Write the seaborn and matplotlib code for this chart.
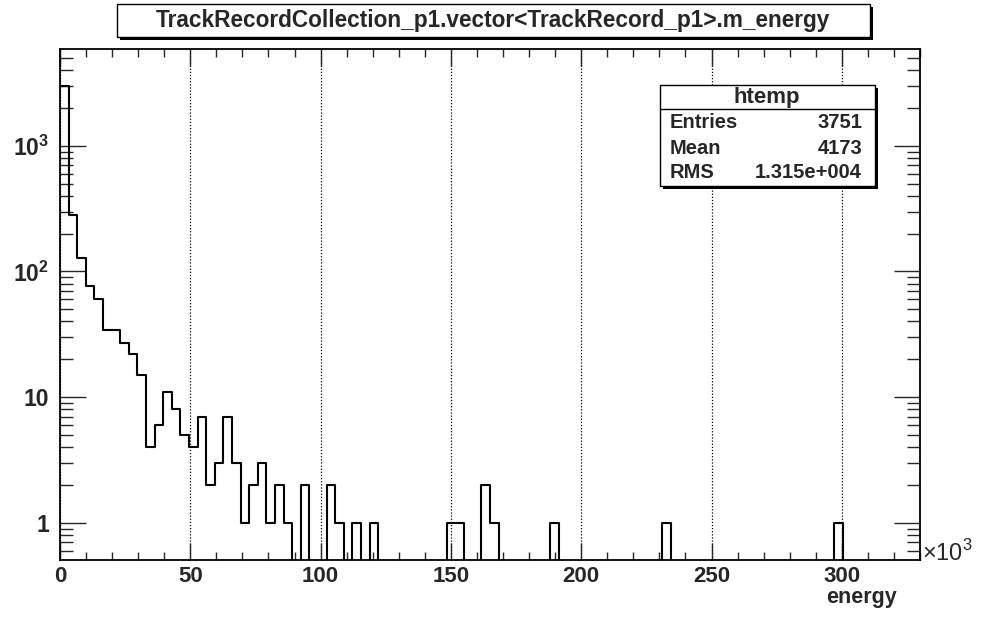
"""
ROOT-style histogram of TrackRecord energies, redrawn with seaborn
"""

import numpy as np
import pandas as pd
import matplotlib
matplotlib.use("Agg")
import matplotlib.pyplot as plt
import seaborn as sns
from matplotlib.patches import Rectangle
from matplotlib.ticker import FixedLocator, MultipleLocator, LogLocator, NullFormatter, FixedFormatter

# binning (energy axis in units of 10^3)
x_min, x_max, n_bins = 0.0, 330.0, 100

# bin contents, bins 0..36
low_counts = [2990, 283, 127, 76, 60, 34, 34, 27, 22, 15,
              4, 6, 11, 8, 5, 4, 7, 2, 3, 7,
              3, 1, 2, 3, 1, 2, 1, 0, 2, 0,
              0, 2, 1, 0, 1, 0, 1]
# sparse tail: bin index and content
tail_bins = [45, 46, 49, 50, 57, 70, 90]
tail_counts = [1, 1, 2, 1, 1, 1, 1]

title = "TrackRecordCollection_p1.vector<TrackRecord_p1>.m_energy"
stat_names = ["Entries", "Mean", "RMS"]
stat_values = ["3751", "4173", "1.315e+004"]
x_ticks = [0, 50, 100, 150, 200, 250, 300]
y_ticks = [1, 10, 100, 1000]
y_ticklabels = ["1", "10", r"$\mathbf{10^{2}}$", r"$\mathbf{10^{3}}$"]

W, H = 984, 619


def main():
    counts = np.zeros(n_bins)
    counts[:len(low_counts)] = low_counts
    counts[tail_bins] = tail_counts
    edges = np.linspace(x_min, x_max, n_bins + 1)
    centres = 0.5 * (edges[:-1] + edges[1:])
    df = pd.DataFrame({"energy": centres, "n": counts})

    sns.set_style("ticks")
    plt.rcParams["font.family"] = ["Liberation Sans", "DejaVu Sans"]
    plt.rcParams["mathtext.fontset"] = "custom"
    plt.rcParams["mathtext.rm"] = "Liberation Sans"
    plt.rcParams["mathtext.bf"] = "Liberation Sans:bold"

    fig = plt.figure(figsize=(W / 100, H / 100), dpi=100)
    fig.patch.set_facecolor("white")
    ax = fig.add_axes([60 / W, 1 - 560 / H, 860 / W, 511 / H])

    sns.histplot(data=df, x="energy", weights="n", bins=edges.tolist(), element="step",
                 fill=False, color="black", linewidth=1.5, ax=ax)
    ax.set_yscale("log")
    ax.set_xlim(x_min, x_max)
    ax.set_ylim(0.506, 5890)
    ax.set_xlabel("")
    ax.set_ylabel("")

    # axes look
    for s in ax.spines.values():
        s.set_visible(True)
        s.set_color("black")
        s.set_linewidth(1.3)
    ax.xaxis.set_major_locator(FixedLocator(x_ticks))
    ax.xaxis.set_minor_locator(MultipleLocator(10))
    ax.yaxis.set_major_locator(FixedLocator(y_ticks))
    ax.yaxis.set_major_formatter(FixedFormatter(y_ticklabels))
    ax.yaxis.set_minor_locator(LogLocator(base=10, subs=range(2, 10)))
    ax.yaxis.set_minor_formatter(NullFormatter())
    ax.tick_params(axis="x", which="major", direction="in", length=12, width=1,
                   top=True, labelsize=16, pad=4)
    ax.tick_params(axis="x", which="minor", direction="in", length=6, width=1, top=True)
    ax.tick_params(axis="y", which="major", direction="in", length=19, width=1,
                   right=True, labelsize=16.5, pad=8)
    ax.tick_params(axis="y", which="minor", direction="in", length=9.5, width=1, right=True)
    for lab in ax.get_xticklabels() + ax.get_yticklabels():
        lab.set_fontweight("bold")
    ax.grid(axis="x", which="major", linestyle=(0, (1, 1.5)), color="black", linewidth=0.9)
    ax.grid(axis="y", visible=False)

    # overlay in pixel coordinates for the boxes and labels
    ov = fig.add_axes([0, 0, 1, 1], zorder=5)
    ov.set_xlim(0, W)
    ov.set_ylim(H, 0)
    ov.axis("off")
    ov.patch.set_visible(False)

    # title box with shadow
    ov.add_patch(Rectangle((120, 7), 753, 33, facecolor="black", edgecolor="none"))
    ov.add_patch(Rectangle((117, 4), 753, 33, facecolor="white", edgecolor="black", linewidth=1))
    ov.text(493, 21, title, ha="center", va="center", fontsize=16.3, fontweight="bold")

    # stats box
    ov.add_patch(Rectangle((663, 88), 215, 101, facecolor="black", edgecolor="none"))
    ov.add_patch(Rectangle((660, 85), 215, 101, facecolor="white", edgecolor="black", linewidth=1))
    ov.plot([660, 875], [109, 109], color="black", linewidth=1)
    ov.text(767, 98, "htemp", ha="center", va="center", fontsize=16, fontweight="bold")
    for i, (name, val) in enumerate(zip(stat_names, stat_values)):
        y = 123 + 25 * i
        ov.text(670, y, name, ha="left", va="center", fontsize=14.5, fontweight="bold")
        ov.text(862, y, val, ha="right", va="center", fontsize=14.5, fontweight="bold")

    # axis title and exponent
    ov.text(897, 603, "energy", ha="right", va="baseline", fontsize=15.5, fontweight="bold")
    ov.text(922, 561, r"$\times$10$^{3}$", ha="left", va="baseline", fontsize=17)

    fig.savefig("out.png", dpi=100, facecolor="white")
    plt.close(fig)


if __name__ == "__main__":
    main()
